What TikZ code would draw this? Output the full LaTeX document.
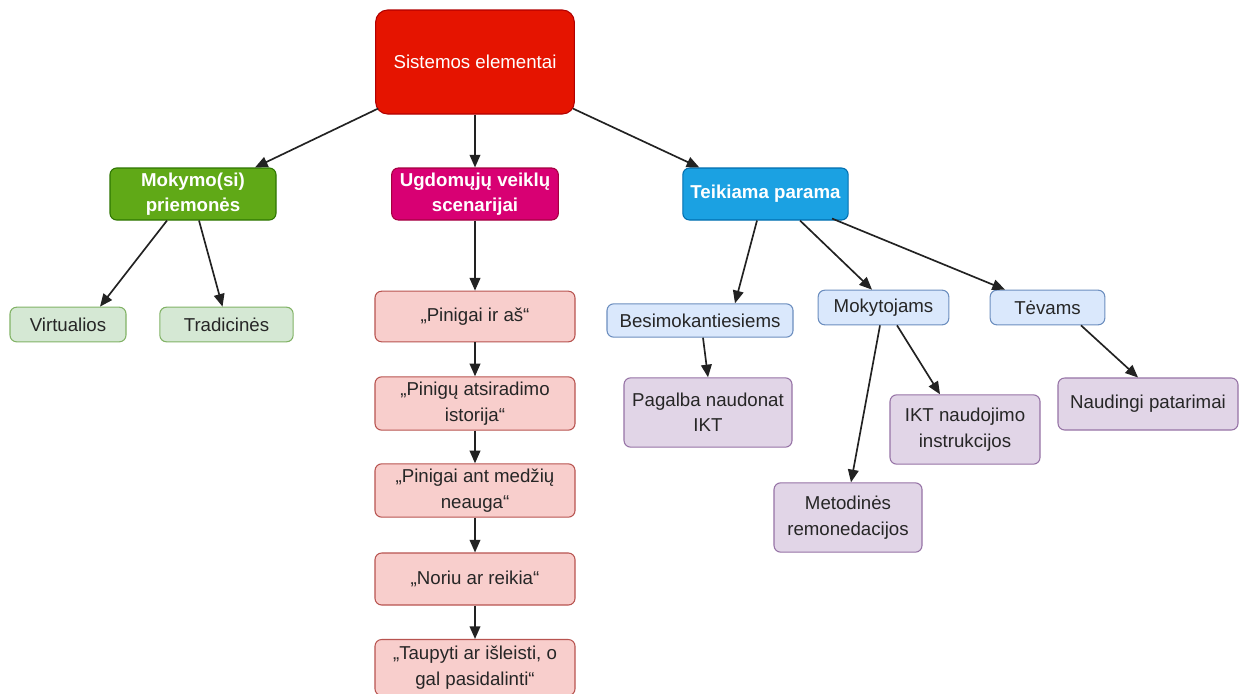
\documentclass[tikz,border=0pt]{standalone}
\usepackage{fontspec}
\setmainfont{Liberation Sans}
\usetikzlibrary{arrows.meta,calc}

\definecolor{rootfill}{HTML}{E51400}\definecolor{rootline}{HTML}{B20000}
\definecolor{grnfill}{HTML}{60A917}\definecolor{grnline}{HTML}{2D7600}
\definecolor{magfill}{HTML}{D80073}\definecolor{magline}{HTML}{A50040}
\definecolor{bluefill}{HTML}{1BA1E2}\definecolor{blueline}{HTML}{006EAF}
\definecolor{lgfill}{HTML}{D5E8D4}\definecolor{lgline}{HTML}{82B366}
\definecolor{pkfill}{HTML}{F8CECC}\definecolor{pkline}{HTML}{B85450}
\definecolor{lbfill}{HTML}{DAE8FC}\definecolor{lbline}{HTML}{6C8EBF}
\definecolor{ppfill}{HTML}{E1D5E7}\definecolor{ppline}{HTML}{9673A6}
\definecolor{txt}{HTML}{262626}
\definecolor{arrowcol}{HTML}{222222}

\begin{document}
\begin{tikzpicture}[x=0.75pt,y=-0.75pt,
  box/.style={draw, line width=0.8pt, rounded corners=5pt, align=center,
    inner sep=1pt, font=\fontsize{14}{19}\selectfont, text=txt},
  topbox/.style={box, text=white, font=\fontsize{14}{19}\selectfont\bfseries},
  rootbox/.style={box, fill=rootfill, draw=rootline, text=white, rounded corners=9pt},
  greenbox/.style={topbox, fill=grnfill, draw=grnline},
  magbox/.style={topbox, fill=magfill, draw=magline},
  bluebox/.style={topbox, fill=bluefill, draw=blueline},
  lgbox/.style={box, fill=lgfill, draw=lgline},
  pkbox/.style={box, fill=pkfill, draw=pkline, minimum width=150pt},
  lbbox/.style={box, fill=lbfill, draw=lbline},
  ppbox/.style={box, fill=ppfill, draw=ppline},
  arr/.style={draw=arrowcol, line width=1.25pt, -{Triangle[length=9.5pt,width=8pt]}}]

\clip (0,0) rectangle (1248,693);
\fill[white] (0,0) rectangle (1248,693);

% top level
\node[rootbox, minimum width=149pt, minimum height=78pt] (root) at (475,62) {Sistemos elementai};

% second level
\node[greenbox, minimum width=124.5pt, minimum height=39pt] (mok) at (193,194) {Mokymo(si)\\priemonės};
\node[magbox, minimum width=125pt, minimum height=39pt] (ugd) at (475,194) {Ugdomųjų veiklų\\scenarijai};
\node[bluebox, minimum width=124pt, minimum height=39pt] (teik) at (765.5,194) {Teikiama parama};

% teaching aids
\node[lgbox, minimum width=87pt, minimum height=26pt] (virt) at (68,324.5) {Virtualios};
\node[lgbox, minimum width=100pt, minimum height=26pt] (trad) at (226.5,324.5) {Tradicinės};

% activity scenarios
\node[pkbox, minimum height=38pt] (p1) at (475,316.5) {„Pinigai ir aš“};
\node[pkbox, minimum height=40pt] (p2) at (475,403.5) {„Pinigų atsiradimo\\istorija“};
\node[pkbox, minimum height=40pt] (p3) at (475,490.5) {„Pinigai ant medžių\\neauga“};
\node[pkbox, minimum height=39pt] (p4) at (475,579) {„Noriu ar reikia“};
\node[pkbox, minimum height=42pt] (p5) at (475,667.5) {„Taupyti ar išleisti, o\\gal pasidalinti“};

% support
\node[lbbox, minimum width=139.5pt, minimum height=25pt] (bes) at (700,320.5) {Besimokantiesiems};
\node[lbbox, minimum width=98pt, minimum height=26pt] (moky) at (883.5,307.5) {Mokytojams};
\node[lbbox, minimum width=86pt, minimum height=26pt] (tev) at (1047.5,307.5) {Tėvams};

\node[ppbox, minimum width=126pt, minimum height=52pt] (pag) at (708,412.5) {Pagalba naudonat\\IKT};
\node[ppbox, minimum width=112.5pt, minimum height=52pt] (ikt) at (965,429.5) {IKT naudojimo\\instrukcijos};
\node[ppbox, minimum width=111pt, minimum height=52pt] (met) at (848,517.5) {Metodinės\\remonedacijos};
\node[ppbox, minimum width=135pt, minimum height=39pt] (nau) at (1148,404) {Naudingi patarimai};

% connectors
\draw[arr] ($(root.south west)+(3,-6)$) -- ($(mok.north)+(62,0)$);
\draw[arr] (root.south) -- (ugd.north);
\draw[arr] ($(root.south east)+(-2,-6)$) -- ($(teik.north west)+(17,0)$);

\draw[arr] ($(mok.south)+(-26,0)$) -- ($(virt.north)+(32,0)$);
\draw[arr] ($(mok.south)+(6,0)$) -- ($(trad.north)+(-4,0)$);

\draw[arr] (ugd.south) -- (p1.north);
\draw[arr] (p1.south) -- (p2.north);
\draw[arr] (p2.south) -- (p3.north);
\draw[arr] (p3.south) -- (p4.north);
\draw[arr] (p4.south) -- (p5.north);

\draw[arr] ($(teik.south)+(-8.5,0)$) -- ($(bes.north)+(35,0)$);
\draw[arr] ($(teik.south)+(34.5,0)$) -- ($(moky.north)+(-11.5,0)$);
\draw[arr] ($(teik.south)+(66.5,-2)$) -- ($(tev.north)+(-42.5,0)$);

\draw[arr] ($(bes.south)+(3,0)$) -- (pag.north);
\draw[arr] ($(moky.south)+(-3.5,0)$) -- ($(met.north)+(3,0)$);
\draw[arr] ($(moky.south)+(13.5,0)$) -- ($(ikt.north)+(-25,0)$);
\draw[arr] ($(tev.south)+(33.5,0)$) -- ($(nau.north)+(-10,0)$);
\end{tikzpicture}
\end{document}
